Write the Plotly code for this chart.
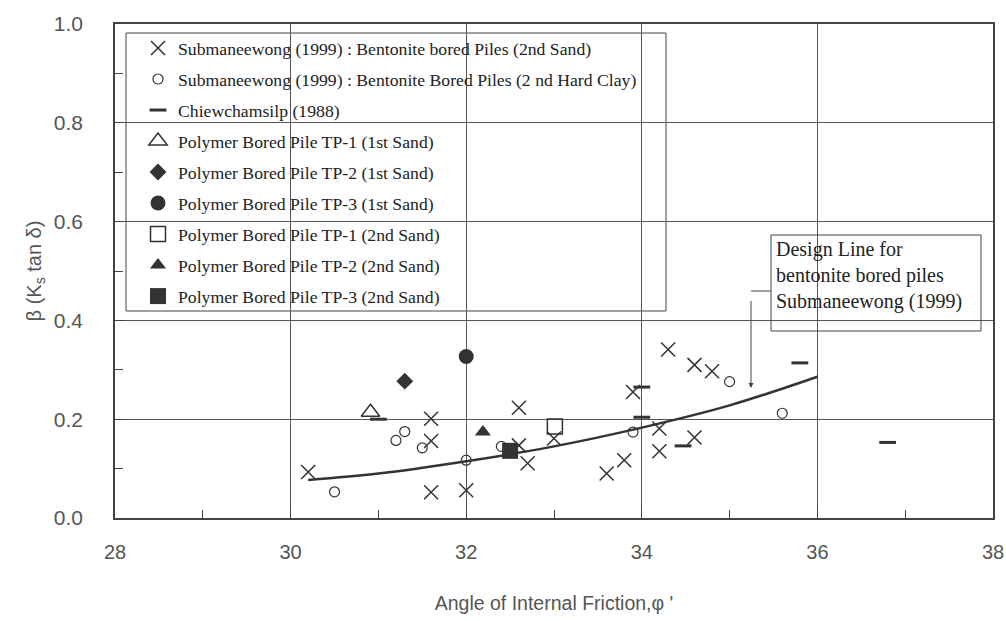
import plotly.graph_objects as go

# ---- data ----
cross_x = [30.2, 31.6, 31.6, 31.6, 32.0, 32.6, 32.6, 32.7, 33.0, 33.6, 33.8, 33.9, 34.2, 34.2, 34.3, 34.6, 34.8, 34.6]
cross_y = [0.093, 0.201, 0.156, 0.052, 0.056, 0.223, 0.147, 0.111, 0.161, 0.090, 0.117, 0.255, 0.181, 0.135, 0.341, 0.310, 0.297, 0.163]

circle_x = [30.5, 31.3, 31.2, 31.5, 32.0, 32.4, 33.9, 35.0, 35.6]
circle_y = [0.053, 0.175, 0.157, 0.142, 0.117, 0.145, 0.174, 0.276, 0.212]

dash_x = [31.0, 34.0, 34.0, 34.47, 35.8, 36.8]
dash_y = [0.200, 0.265, 0.204, 0.146, 0.314, 0.153]

tp1_s1_x, tp1_s1_y = [30.91], [0.214]
tp2_s1_x, tp2_s1_y = [31.30], [0.277]
tp3_s1_x, tp3_s1_y = [32.0], [0.327]
tp1_s2_x, tp1_s2_y = [33.01], [0.185]
tp2_s2_x, tp2_s2_y = [32.19], [0.174]
tp3_s2_x, tp3_s2_y = [32.50], [0.136]

design_x = [30.2, 31.0, 32.0, 33.0, 34.0, 35.0, 36.0]
design_y = [0.077, 0.090, 0.115, 0.145, 0.183, 0.228, 0.286]

x_ticks = [28, 30, 32, 34, 36, 38]
y_ticks = [0.0, 0.2, 0.4, 0.6, 0.8, 1.0]
y_tick_text = ["0.0", "0.2", "0.4", "0.6", "0.8", "1.0"]

names = [
    "Submaneewong (1999) : Bentonite bored Piles (2nd Sand)",
    "Submaneewong (1999) : Bentonite Bored Piles (2 nd Hard Clay)",
    "Chiewchamsilp (1988)",
    "Polymer Bored Pile TP-1 (1st Sand)",
    "Polymer Bored Pile TP-2 (1st Sand)",
    "Polymer Bored Pile TP-3 (1st Sand)",
    "Polymer Bored Pile TP-1 (2nd Sand)",
    "Polymer Bored Pile TP-2 (2nd Sand)",
    "Polymer Bored Pile TP-3 (2nd Sand)",
]

DARK = "#333333"
fig = go.Figure()

fig.add_trace(go.Scatter(x=design_x, y=design_y, mode="lines", line=dict(color=DARK, width=2.5, shape="spline"),
                         showlegend=False, hoverinfo="skip"))

specs = [
    (cross_x, cross_y, "x-thin-open", 14, 1.5),
    (circle_x, circle_y, "circle-open", 10, 1.2),
    (dash_x, dash_y, "line-ew-open", 12, 3),
    (tp1_s1_x, tp1_s1_y, "triangle-up-open", 16, 1.5),
    (tp2_s1_x, tp2_s1_y, "diamond", 13, 0),
    (tp3_s1_x, tp3_s1_y, "circle", 15, 0),
    (tp1_s2_x, tp1_s2_y, "square-open", 15, 1.5),
    (tp2_s2_x, tp2_s2_y, "triangle-up", 14, 0),
    (tp3_s2_x, tp3_s2_y, "square", 16, 0),
]
for i, (xs, ys, sym, sz, lw) in enumerate(specs):
    fig.add_trace(go.Scatter(
        x=xs, y=ys, mode="markers", name=names[i], legendgroup=f"g{i}",
        marker=dict(symbol=sym, size=sz, color=DARK, line=dict(color=DARK, width=lw)),
    ))

W, H = 1006, 621
L, R, T, B = 115, 13, 24, 103
pw, ph = W - L - R, H - T - B


def px(xr):
    return (xr - L) / pw


def py(yr):
    return (H - B - yr) / ph


shapes = [
    # legend box
    dict(type="rect", xref="paper", yref="paper", x0=px(126), x1=px(666), y0=py(311), y1=py(33),
         line=dict(color="#444", width=1), fillcolor="white", layer="between"),
    # annotation box
    dict(type="rect", xref="paper", yref="paper", x0=px(771), x1=px(981), y0=py(331), y1=py(235),
         line=dict(color="#444", width=1), fillcolor="white", layer="between"),
    # arrow horizontal leg
    dict(type="line", xref="paper", yref="paper", x0=px(751), x1=px(771), y0=py(291), y1=py(291),
         line=dict(color="#444", width=1)),
]

annotations = [
    dict(xref="paper", yref="paper", x=px(774), y=py(236), xanchor="left", yanchor="top", align="left",
         showarrow=False, text="Design Line for<br>bentonite bored piles<br>Submaneewong (1999)",
         font=dict(family="Liberation Serif, Times New Roman, serif", size=20, color="#222")),
    dict(xref="paper", yref="paper", x=px(751), y=py(388), axref="pixel", ayref="pixel", ax=0, ay=-97,
         showarrow=True, arrowhead=2, arrowsize=1, arrowwidth=1, arrowcolor="#444", text=" "),
]

axis_common = dict(showline=True, mirror=True, linecolor="#444", linewidth=1.5,
                   showgrid=True, gridcolor="#555", gridwidth=1, zeroline=False,
                   ticks="inside", ticklen=8, tickcolor="#444", automargin=False)

fig.update_layout(
    width=W, height=H, margin=dict(l=L, r=R, t=T, b=B),
    paper_bgcolor="white", plot_bgcolor="white",
    showlegend=True,
    legend=dict(x=px(138), y=py(30), xanchor="left", yanchor="top", bgcolor="rgba(0,0,0,0)",
                borderwidth=0, tracegroupgap=5,
                font=dict(family="Liberation Serif, Times New Roman, serif", size=17.7, color="#222")),
    shapes=shapes, annotations=annotations,
    xaxis=dict(range=[28, 38], tickvals=x_ticks, ticklabelstandoff=15,
               tickfont=dict(family="Liberation Sans, Arial, sans-serif", size=20, color="#555"),
               minor=dict(dtick=1, ticks="inside", ticklen=8, tickcolor="#444", showgrid=False),
               title=dict(text="Angle of Internal Friction,φ '", standoff=35,
                          font=dict(family="Liberation Sans Narrow, Arial Narrow, Liberation Sans, sans-serif", size=19.5, color="#555")),
               **axis_common),
    yaxis=dict(range=[0, 1], tickvals=y_ticks, ticktext=y_tick_text, ticklabelstandoff=26,
               tickfont=dict(family="Liberation Sans, Arial, sans-serif", size=21, color="#555"),
               minor=dict(dtick=0.1, ticks="inside", ticklen=8, tickcolor="#444", showgrid=False),
               title=dict(text="β (K<sub>s</sub> tan δ)", standoff=7,
                          font=dict(family="Liberation Sans, Arial, sans-serif", size=20, color="#555")),
               **axis_common),
)

fig.write_html("out.html", config={"displayModeBar": False},
               post_script="document.body.style.margin='0px';")
